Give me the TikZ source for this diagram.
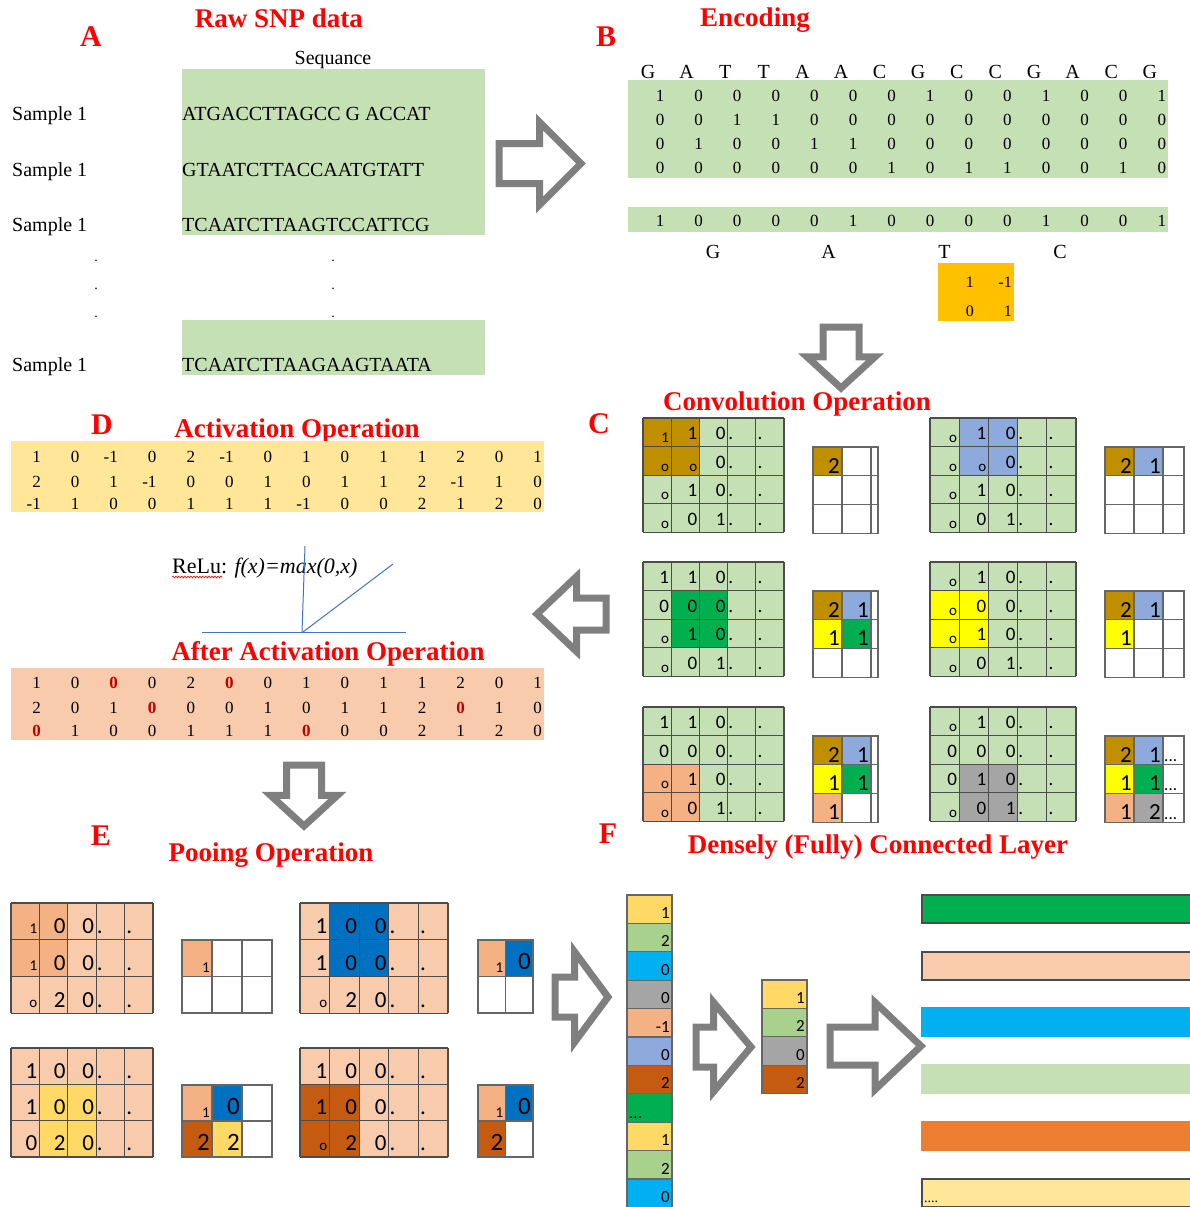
\documentclass[tikz,border=0pt]{standalone}
\usepackage{fontspec}
\setmainfont{Liberation Serif}
\newfontfamily\calib{Carlito}
\usetikzlibrary{positioning,shapes.arrows,decorations.pathmorphing}

\definecolor{lgreen}{HTML}{C5E0B4}
\definecolor{brn}{HTML}{BF8F00}
\definecolor{blu}{HTML}{8EA9DB}
\definecolor{grn}{HTML}{00B050}
\definecolor{yel}{HTML}{FFFF00}
\definecolor{sal}{HTML}{F4B183}
\definecolor{lsal}{HTML}{F8CBAD}
\definecolor{gry}{HTML}{A5A5A5}
\definecolor{gold}{HTML}{FFD966}
\definecolor{lgold}{HTML}{FFE699}
\definecolor{dblue}{HTML}{0070C0}
\definecolor{dor}{HTML}{C55A11}
\definecolor{orng}{HTML}{FFC000}
\definecolor{cyanb}{HTML}{00B0F0}
\definecolor{fgreen}{HTML}{A9D18E}
\definecolor{orngb}{HTML}{ED7D31}
\definecolor{arrgray}{HTML}{7F7F7F}
\definecolor{relublue}{HTML}{4472C4}
\definecolor{zred}{HTML}{C00000}

\newcommand{\fsz}[1]{\fontsize{#1}{#1}\selectfont}
\newcommand{\lo}[1]{\raisebox{-3pt}{\fsz{15}#1}}
\newcommand{\sm}[1]{{\fsz{15}#1}}
\newcommand{\rz}{\textcolor{zred}{\textbf{0}}}

\newcommand{\setgrid}[4]{\def\gridx{#1}\def\gridy{#2}\def\cellw{#3}\def\cellh{#4}}
\newcommand{\cellfill}[3]{\fill[#3] ({\gridx+(#1-1)*\cellw},{\gridy+(#2-1)*\cellh}) rectangle ++(\cellw,\cellh);}
\newcommand{\gridlines}[3]{%
  \foreach \gi in {0,...,#1} \draw[#3] ({\gridx+\gi*\cellw},\gridy) -- ++(0,{#2*\cellh});
  \foreach \gj in {0,...,#2} \draw[#3] (\gridx,{\gridy+\gj*\cellh}) -- ++({#1*\cellw},0);}
\newcommand{\resgrid}[3]{%
  \foreach \gi in {1,...,#1} \draw[rline] ({\gridx+\gi*\cellw},\gridy) -- ++(0,{#2*\cellh});
  \foreach \gj in {1,...,#2} \draw[rline] (\gridx,{\gridy+\gj*\cellh}) -- ++(#3,0);
  \draw[rline] (\gridx,\gridy) rectangle ++(#3,{#2*\cellh});}
\newcommand{\gridrows}[4]{%
  \foreach \rowl [count=\rowi] in {#4} {
    \foreach \val [count=\coli] in \rowl
      \node[#2] (#1-\rowi-\coli) at ({\gridx+\coli*\cellw-2},{\gridy+\rowi*\cellh-#3}) {\val};
    \node[#2, anchor=base west] (#1-\rowi-4) at ({\gridx+3*\cellw+0.5},{\gridy+\rowi*\cellh-#3}) {.};
    \node[#2, anchor=base west] (#1-\rowi-5) at ({\gridx+4*\cellw+1.5},{\gridy+\rowi*\cellh-#3}) {.};
  }}
\newcommand{\rcell}[6]{%
  \fill[#4] ({\gridx+(#2-1)*\cellw},{\gridy+(#3-1)*\cellh}) rectangle ++(\cellw,\cellh);
  \node[rdig] (#1) at ({\gridx+#2*\cellw-2},{\gridy+#3*\cellh-#6}) {#5};}

\begin{document}
\begin{tikzpicture}[x=1pt,y=-1pt]
\tikzstyle{every node}=[inner sep=0]
\tikzstyle{title}=[font={\bfseries\fsz{27}}, text=red, anchor=base]
\tikzstyle{letter}=[font={\bfseries\fsz{30}}, text=red, anchor=base]
\tikzstyle{txt}=[font={\fsz{20}}, anchor=base west]
\tikzstyle{num}=[font={\fsz{17}}, anchor=base]
\tikzstyle{numr}=[font={\fsz{17}}, anchor=base east]
\tikzstyle{dig}=[font={\calib\fsz{19}}, anchor=base east]
\tikzstyle{edig}=[font={\calib\fsz{23}}, anchor=base east]
\tikzstyle{rdig}=[font={\calib\fsz{23}}, anchor=base east]
\tikzstyle{fdig}=[font={\calib\fsz{17}}, anchor=base east]
\tikzstyle{gline}=[draw=black!70, line width=1.2]
\tikzstyle{rline}=[draw=black!60, line width=1.2]
\tikzstyle{bigarrow}=[single arrow, draw=arrgray, fill=white, line width=7, inner xsep=0, anchor=tail]
\tikzstyle{relu}=[draw=relublue, line width=1]
\useasboundingbox (0,0) rectangle (1189,1207);

\node[letter] (labA) at (91,47) {A};
\node[title] (rawt) at (279,28) {Raw SNP data};
\fill[lgreen] (182,69) rectangle (485,235);
\fill[lgreen] (182,320) rectangle (485,375);
\node[txt, anchor=base] (seqh) at (333,64) {Sequance};
\foreach \s/\yy [count=\k] in {ATGACCTTAGCC G ACCAT/120, GTAATCTTACCAATGTATT/176, TCAATCTTAAGTCCATTCG/231, TCAATCTTAAGAAGTAATA/371} {
  \node[txt] (smp\k) at (12,\yy) {Sample 1};
  \node[txt] (seq\k) at (182,\yy) {\s};
}
\foreach \yy [count=\k] in {261,289,317} {
  \node[font=\fsz{14}, anchor=base] (dl\k) at (96,\yy) {.};
  \node[font=\fsz{14}, anchor=base] (dr\k) at (333,\yy) {.};
}
\node[bigarrow, minimum height=82, inner ysep=16.5, single arrow head extend=21.5, single arrow tip angle=90] (arrAB) at (495.5,163.5) {};

\node[letter] (labB) at (606,47) {B};
\node[title] (enct) at (755,27) {Encoding};
\fill[lgreen] (628,80) rectangle (1168,178);
\fill[lgreen] (628,207) rectangle (1168,232);
\foreach \l [count=\k] in {G,A,T,T,A,A,C,G,C,C,G,A,C,G}
  \node[txt, anchor=base] (nuc\k) at ({648+38.6*(\k-1)},78) {\l};
\foreach \rowl/\yy in {{1,0,0,0,0,0,0,1,0,0,1,0,0,1}/101,{0,0,1,1,0,0,0,0,0,0,0,0,0,0}/125,{0,1,0,0,1,1,0,0,0,0,0,0,0,0}/149,{0,0,0,0,0,0,1,0,1,1,0,0,1,0}/173,{1,0,0,0,0,1,0,0,0,0,1,0,0,1}/226}
  \foreach \val [count=\k] in \rowl
    \node[num] (enc-\yy-\k) at ({660+38.6*(\k-1)},\yy) {\val};
\foreach \l [count=\k] in {G,A,T,C}
  \node[txt, anchor=base] (base\k) at ({713+115.7*(\k-1)},258.5) {\l};
\fill[orng] (938,263) rectangle (1014,321);
\node[numr, font=\fsz{16}] (k11) at (974,287.5) {1};
\node[numr, font=\fsz{16}] (k12) at (1012,287.5) {-1};
\node[numr, font=\fsz{16}] (k21) at (974,316.5) {0};
\node[numr, font=\fsz{16}] (k22) at (1012,316.5) {1};
\node[bigarrow, shape border rotate=270, minimum height=61, inner xsep=14.5, inner ysep=0, single arrow head extend=16, single arrow tip angle=95] (arrBC) at (841,323.5) {};

\node[letter] (labC) at (599,433) {C};
\node[title] (convt) at (797,410) {Convolution Operation};

\setgrid{643}{418}{28.2}{28.6}
\fill[lgreen] (\gridx,\gridy) rectangle ++({5*\cellw},{4*\cellh});
\foreach \cx/\cy in {1/1,2/1,1/2,2/2} {\cellfill{\cx}{\cy}{brn}}
\gridlines{5}{4}{gline}
\gridrows{ca}{dig}{7}{{\lo{1},1,0},{\lo{o},\lo{o},0},{\lo{o},1,0},{\lo{o},0,1}}
\setgrid{813}{447}{29}{28.7}
\rcell{rca11}{1}{1}{brn}{2}{2.5}
\resgrid{2}{3}{65}

\setgrid{930}{418}{29.2}{28.6}
\fill[lgreen] (\gridx,\gridy) rectangle ++({5*\cellw},{4*\cellh});
\foreach \cx/\cy in {2/1,3/1,2/2,3/2} {\cellfill{\cx}{\cy}{blu}}
\gridlines{5}{4}{gline}
\gridrows{cb}{dig}{7}{{\lo{o},1,0},{\lo{o},\lo{o},0},{\lo{o},1,0},{\lo{o},0,1}}
\setgrid{1105}{447}{29}{28.7}
\rcell{rcb11}{1}{1}{brn}{2}{2.5}
\rcell{rcb21}{2}{1}{blu}{1}{2.5}
\resgrid{2}{3}{79}

\setgrid{643}{562}{28.2}{28.6}
\fill[lgreen] (\gridx,\gridy) rectangle ++({5*\cellw},{4*\cellh});
\foreach \cx/\cy in {2/2,3/2,2/3,3/3} {\cellfill{\cx}{\cy}{grn}}
\gridlines{5}{4}{gline}
\gridrows{cc}{dig}{7}{{1,1,0},{0,0,0},{\lo{o},1,0},{\lo{o},0,1}}
\setgrid{813}{591}{29}{28.7}
\rcell{rcc11}{1}{1}{brn}{2}{2.5}
\rcell{rcc21}{2}{1}{blu}{1}{2.5}
\rcell{rcc12}{1}{2}{yel}{1}{2.5}
\rcell{rcc22}{2}{2}{grn}{1}{2.5}
\resgrid{2}{3}{65}

\setgrid{930}{562}{29.2}{28.6}
\fill[lgreen] (\gridx,\gridy) rectangle ++({5*\cellw},{4*\cellh});
\foreach \cx/\cy in {1/2,2/2,1/3,2/3} {\cellfill{\cx}{\cy}{yel}}
\gridlines{5}{4}{gline}
\gridrows{cd}{dig}{7}{{\lo{o},1,0},{\lo{o},0,0},{\lo{o},1,0},{\lo{o},0,1}}
\setgrid{1105}{591}{29}{28.7}
\rcell{rcd11}{1}{1}{brn}{2}{2.5}
\rcell{rcd21}{2}{1}{blu}{1}{2.5}
\rcell{rcd12}{1}{2}{yel}{1}{2.5}
\resgrid{2}{3}{79}

\setgrid{643}{707}{28.2}{28.6}
\fill[lgreen] (\gridx,\gridy) rectangle ++({5*\cellw},{4*\cellh});
\foreach \cx/\cy in {1/3,2/3,1/4,2/4} {\cellfill{\cx}{\cy}{sal}}
\gridlines{5}{4}{gline}
\gridrows{ce}{dig}{7}{{1,1,0},{0,0,0},{\lo{o},1,0},{\lo{o},0,1}}
\setgrid{813}{736}{29}{28.7}
\rcell{rce11}{1}{1}{brn}{2}{2.5}
\rcell{rce21}{2}{1}{blu}{1}{2.5}
\rcell{rce12}{1}{2}{yel}{1}{2.5}
\rcell{rce22}{2}{2}{grn}{1}{2.5}
\rcell{rce13}{1}{3}{sal}{1}{2.5}
\resgrid{2}{3}{65}

\setgrid{930}{707}{29.2}{28.6}
\fill[lgreen] (\gridx,\gridy) rectangle ++({5*\cellw},{4*\cellh});
\foreach \cx/\cy in {2/3,3/3,2/4,3/4} {\cellfill{\cx}{\cy}{gry}}
\gridlines{5}{4}{gline}
\gridrows{cf}{dig}{7}{{\lo{o},1,0},{0,0,0},{0,1,0},{\lo{o},0,1}}
\setgrid{1105}{736}{29}{28.7}
\rcell{rcf11}{1}{1}{brn}{2}{2.5}
\rcell{rcf21}{2}{1}{blu}{1}{2.5}
\rcell{rcf12}{1}{2}{yel}{1}{2.5}
\rcell{rcf22}{2}{2}{grn}{1}{2.5}
\rcell{rcf13}{1}{3}{sal}{1}{2.5}
\rcell{rcf23}{2}{3}{gry}{2}{2.5}
\resgrid{2}{3}{79}
\foreach \k in {1,2,3}
  \node[fdig, anchor=base west] (cfd\k) at (1164,{736+\k*28.7-3}) {...};
\node[bigarrow, shape border rotate=180, minimum height=69, inner ysep=12.5, single arrow head extend=21.5, single arrow tip angle=87] (arrCD) at (609.5,614) {};

\node[letter] (labD) at (102,434) {D};
\node[title] (actt) at (297,437) {Activation Operation};
\fill[lgold] (11,441) rectangle (544,512);
\foreach \rowl/\yy in {{1,0,-1,0,2,-1,0,1,0,1,1,2,0,1}/462,{2,0,1,-1,0,0,1,0,1,1,2,-1,1,0}/487,{-1,1,0,0,1,1,1,-1,0,0,2,1,2,0}/509}
  \foreach \val [count=\k] in \rowl
    \node[numr] (act-\yy-\k) at ({41+38.55*(\k-1)},\yy) {\val};
\node[txt, font=\fsz{22}] (relu) at (172,573) {ReLu: \textit{f(x)=max(0,x)}};
\draw[red, line width=0.6, decorate, decoration={snake, amplitude=0.9, segment length=3}] ([yshift=-4pt]relu.base west) -- +(50,0);
\coordinate (axl) at (202,632);
\coordinate (axr) at (406,632);
\coordinate (axo) at (303,632);
\draw[relu] (axl) -- (axr);
\draw[relu] (305,546) -- (302,632);
\draw[relu] (axo) -- (393,564);
\node[title] (aftt) at (328,660) {After Activation Operation};
\fill[lsal] (11,668) rectangle (544,740);
\foreach \rowl/\yy in {{1,0,\rz,0,2,\rz,0,1,0,1,1,2,0,1}/688,{2,0,1,\rz,0,0,1,0,1,1,2,\rz,1,0}/713,{\rz,1,0,0,1,1,1,\rz,0,0,2,1,2,0}/736}
  \foreach \val [count=\k] in \rowl
    \node[numr] (aft-\yy-\k) at ({41+38.55*(\k-1)},\yy) {\val};
\node[bigarrow, shape border rotate=270, minimum height=61, inner xsep=14, inner ysep=0, single arrow head extend=16, single arrow tip angle=95] (arrDE) at (304,761.5) {};

\node[letter] (labE) at (101,845) {E};
\node[title] (poolt) at (271,861) {Pooing Operation};
\tikzstyle{rdig}=[font={\calib\fsz{25}}, anchor=base east]

\setgrid{11}{903}{28.4}{36.7}
\fill[lsal] (\gridx,\gridy) rectangle ++({5*\cellw},{3*\cellh});
\foreach \cx/\cy in {1/1,2/1,1/2,2/2} {\cellfill{\cx}{\cy}{sal}}
\gridlines{5}{3}{gline}
\gridrows{ea}{edig}{6}{{\sm{1},0,0},{\sm{1},0,0},{\sm{o},2,0}}
\setgrid{182}{940}{30}{36.5}
\rcell{rea11}{1}{1}{sal}{\sm{1}}{4}
\resgrid{2}{2}{90}

\setgrid{300}{903}{29.6}{36.7}
\fill[lsal] (\gridx,\gridy) rectangle ++({5*\cellw},{3*\cellh});
\foreach \cx/\cy in {2/1,3/1,2/2,3/2} {\cellfill{\cx}{\cy}{dblue}}
\gridlines{5}{3}{gline}
\gridrows{eb}{edig}{6}{{1,0,0},{1,0,0},{\sm{o},2,0}}
\setgrid{478}{940}{27.5}{36.5}
\rcell{reb11}{1}{1}{sal}{\sm{1}}{4}
\rcell{reb21}{2}{1}{dblue}{0}{7}
\resgrid{1}{2}{55}

\setgrid{11}{1048}{28.4}{36.3}
\fill[lsal] (\gridx,\gridy) rectangle ++({5*\cellw},{3*\cellh});
\foreach \cx/\cy in {2/2,3/2,2/3,3/3} {\cellfill{\cx}{\cy}{gold}}
\gridlines{5}{3}{gline}
\gridrows{ec}{edig}{6}{{1,0,0},{1,0,0},{0,2,0}}
\setgrid{182}{1085}{30}{36}
\rcell{rec11}{1}{1}{sal}{\sm{1}}{4}
\rcell{rec21}{2}{1}{dblue}{0}{7}
\rcell{rec12}{1}{2}{dor}{2}{7}
\rcell{rec22}{2}{2}{gold}{2}{7}
\resgrid{2}{2}{90}

\setgrid{300}{1048}{29.6}{36.3}
\fill[lsal] (\gridx,\gridy) rectangle ++({5*\cellw},{3*\cellh});
\foreach \cx/\cy in {1/2,2/2,1/3,2/3} {\cellfill{\cx}{\cy}{dor}}
\gridlines{5}{3}{gline}
\gridrows{ed}{edig}{6}{{1,0,0},{1,0,0},{\sm{o},2,0}}
\setgrid{478}{1085}{27.5}{36}
\rcell{red11}{1}{1}{sal}{\sm{1}}{4}
\rcell{red21}{2}{1}{dblue}{0}{7}
\rcell{red12}{1}{2}{dor}{2}{7}
\resgrid{1}{2}{55}
\node[bigarrow, minimum height=53, inner ysep=16.5, single arrow head extend=25, single arrow tip angle=107] (arrEF) at (551.5,997) {};

\node[letter] (labF) at (608,843) {F};
\node[title] (denset) at (878,853) {Densely (Fully) Connected Layer};
\foreach \col/\val [count=\k] in {gold/1,fgreen/2,cyanb/0,gry/0,sal/-1,blu/0,dor/2,grn/,gold/1,fgreen/2,cyanb/0} {
  \draw[rline, fill=\col] (627,{895+(\k-1)*28.4}) rectangle ++(45,28.4);
  \node[fdig] (flat\k) at (670,{895+\k*28.4-5}) {\val};
}
\node[fdig, anchor=base west] (flatdots) at (629,1118) {...};
\node[bigarrow, minimum height=55, inner ysep=16.5, single arrow head extend=24.5, single arrow tip angle=100] (arrF1) at (692.5,1047) {};
\foreach \col/\val [count=\k] in {gold/1,fgreen/2,gry/0,dor/2} {
  \draw[rline, fill=\col] (762,{980+(\k-1)*28.4}) rectangle ++(45,28.4);
  \node[fdig] (sel\k) at (805,{980+\k*28.4-5}) {\val};
}
\node[bigarrow, minimum height=91, inner ysep=15.5, single arrow head extend=24.5, single arrow tip angle=87] (arrF2) at (826.5,1046) {};
\foreach \col/\yy/\bd in {grn/895/black!70, lsal/952/black!70, cyanb/1008/cyanb, lgreen/1065/lgreen, orngb/1122/orngb, lgold/1179/black!70}
  \draw[fill=\col, draw=\bd, line width=1.3] (922,\yy) rectangle (1195,{\yy+28});
\node[font=\fsz{14}, anchor=base west] (bardots) at (924,1202) {....};
\end{tikzpicture}
\end{document}
